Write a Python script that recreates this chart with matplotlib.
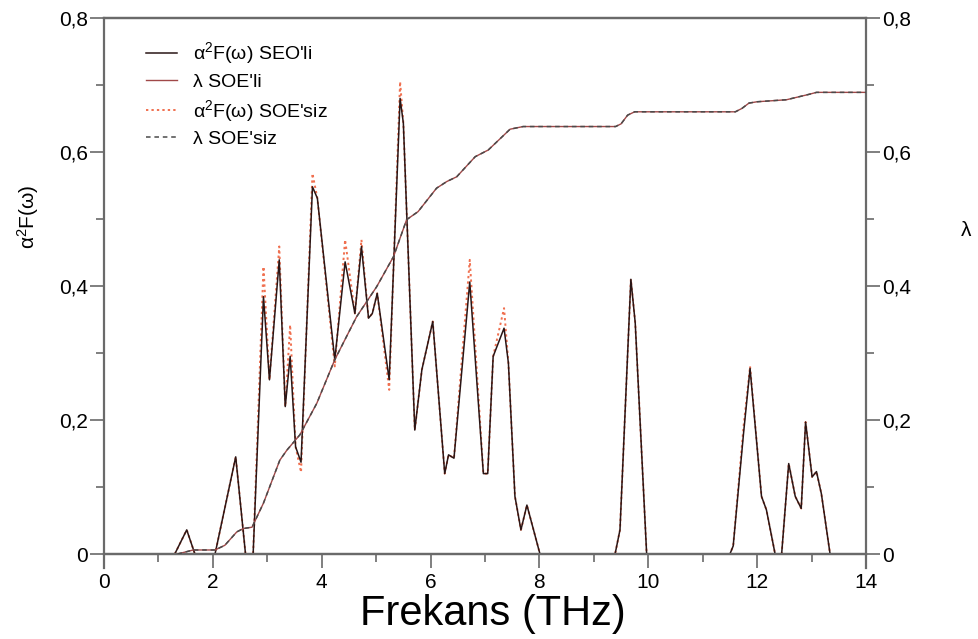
import matplotlib
matplotlib.use("Agg")
import matplotlib.pyplot as plt
from matplotlib.ticker import MultipleLocator, FuncFormatter

plt.rcParams['font.family'] = ['Liberation Sans', 'DejaVu Sans']

# --- data -------------------------------------------------------------
freq_a2f = [1.30, 1.52, 1.67, 2.04, 2.42, 2.60, 2.74, 2.93, 3.04, 3.22, 3.33, 3.42,
            3.52, 3.62, 3.83, 3.92, 4.24, 4.43, 4.61, 4.73, 4.86, 4.93, 5.02, 5.24,
            5.44, 5.50, 5.71, 5.84, 6.04, 6.26, 6.33, 6.43, 6.72, 6.97, 7.05, 7.15,
            7.35, 7.43, 7.55, 7.66, 7.77, 8.01, 9.39, 9.48, 9.68, 9.76, 9.97, 11.50,
            11.56, 11.75, 11.87, 12.08, 12.17, 12.33, 12.45, 12.58, 12.70, 12.81,
            12.89, 13.01, 13.09, 13.18, 13.34, 14.00]
a2f_soe_li = [0, 0.036, 0, 0, 0.145, 0, 0, 0.384, 0.26, 0.439, 0.22, 0.295,
              0.16, 0.137, 0.548, 0.531, 0.29, 0.436, 0.359, 0.459, 0.352, 0.359, 0.389, 0.26,
              0.68, 0.643, 0.185, 0.275, 0.347, 0.12, 0.148, 0.143, 0.406, 0.12, 0.12, 0.295,
              0.337, 0.285, 0.086, 0.036, 0.073, 0, 0, 0.036, 0.41, 0.345, 0, 0,
              0.012, 0.18, 0.277, 0.086, 0.066, 0, 0, 0.135, 0.086, 0.068,
              0.197, 0.115, 0.123, 0.09, 0, 0]
a2f_soe_siz = [0, 0.036, 0, 0, 0.145, 0, 0, 0.429, 0.26, 0.459, 0.22, 0.342,
               0.16, 0.122, 0.568, 0.531, 0.28, 0.469, 0.359, 0.469, 0.352, 0.359, 0.389, 0.245,
               0.705, 0.643, 0.185, 0.275, 0.347, 0.12, 0.148, 0.143, 0.439, 0.12, 0.12, 0.295,
               0.367, 0.285, 0.086, 0.036, 0.073, 0, 0, 0.036, 0.41, 0.345, 0, 0,
               0.012, 0.19, 0.28, 0.086, 0.066, 0, 0, 0.135, 0.086, 0.068,
               0.197, 0.115, 0.123, 0.09, 0, 0]

freq_lam = [1.35, 1.64, 2.04, 2.22, 2.44, 2.56, 2.72, 2.93, 3.23, 3.36, 3.60, 3.91,
            4.24, 4.64, 5.01, 5.32, 5.56, 5.77, 6.11, 6.30, 6.48, 6.82, 7.06, 7.28,
            7.46, 7.70, 9.40, 9.50, 9.62, 9.75, 11.60, 11.72, 11.85, 12.00, 12.54,
            12.95, 13.09, 14.00]
lam_soe_li = [0, 0.006, 0.006, 0.013, 0.033, 0.038, 0.040, 0.076, 0.14, 0.155, 0.178, 0.225,
              0.29, 0.354, 0.399, 0.444, 0.499, 0.511, 0.546, 0.556, 0.563, 0.593, 0.603, 0.62,
              0.634, 0.638, 0.638, 0.642, 0.655, 0.66, 0.66, 0.665, 0.673, 0.675, 0.678,
              0.686, 0.689, 0.689]
lam_soe_siz = [0, 0.006, 0.006, 0.013, 0.033, 0.038, 0.040, 0.076, 0.14, 0.155, 0.178, 0.225,
               0.29, 0.354, 0.399, 0.444, 0.499, 0.511, 0.546, 0.556, 0.563, 0.593, 0.603, 0.62,
               0.634, 0.638, 0.638, 0.642, 0.655, 0.66, 0.66, 0.665, 0.673, 0.675, 0.678,
               0.686, 0.689, 0.689]

labels = [r"$\mathregular{\alpha^{2}F(\omega)}$ SEO'li", "λ SOE'li",
          r"$\mathregular{\alpha^{2}F(\omega)}$ SOE'siz", "λ SOE'siz"]

# --- figure -----------------------------------------------------------
fig = plt.figure(figsize=(9.79, 6.39), dpi=100)
ax = fig.add_axes([104/979, 1-554/639, (866-104)/979, (554-18)/639])
ax2 = ax.twinx()

c_dark = '#2a1616'
c_lam = '#a04848'
c_dot = '#f07050'
c_dash = '#4a4a4a'
axis_col = '#6a6a6a'

l3, = ax.plot(freq_a2f, a2f_soe_siz, color=c_dot, lw=1.4, ls=(0, (1.2, 1.6)), zorder=2)
l1, = ax.plot(freq_a2f, a2f_soe_li, color=c_dark, lw=1.1, zorder=3)
l2, = ax2.plot(freq_lam, lam_soe_li, color=c_lam, lw=1.0, zorder=2)
l4, = ax2.plot(freq_lam, lam_soe_siz, color=c_dash, lw=1.1, ls=(0, (3, 2.5)), zorder=3)

fmt = FuncFormatter(lambda v, p: '0' if abs(v) < 1e-9 else f'{v:.1f}'.replace('.', ','))
for a in (ax, ax2):
    a.set_xlim(0, 14)
    a.set_ylim(0, 0.8)
    a.yaxis.set_major_locator(MultipleLocator(0.2))
    a.yaxis.set_minor_locator(MultipleLocator(0.1))
    a.yaxis.set_major_formatter(fmt)
    for s in a.spines.values():
        s.set_color(axis_col)
        s.set_linewidth(1.6)
ax.xaxis.set_major_locator(MultipleLocator(2))
ax.xaxis.set_minor_locator(MultipleLocator(1))
ax.tick_params(axis='both', which='major', direction='out', length=10, width=1.2,
               color=axis_col, labelsize=15, top=False, right=False)
ax.tick_params(axis='y', which='major', pad=1.5)
ax.tick_params(axis='x', which='major', pad=4)
ax.tick_params(axis='both', which='minor', direction='out', length=6, width=1.2,
               color=axis_col, top=False, right=False)
ax2.tick_params(axis='y', which='major', direction='out', length=10, width=1.2,
                color=axis_col, labelsize=15, pad=1.5)
ax2.tick_params(axis='y', which='minor', direction='out', length=6, width=1.2, color=axis_col)
ax.spines['left'].set_bounds(-0.021, 0.8)
ax2.spines['right'].set_bounds(-0.021, 0.8)
ax2.spines['left'].set_visible(False)
ax.spines['right'].set_visible(False)

fig.text(493/979, 1-625/639, 'Frekans (THz)', ha='center', va='baseline', fontsize=30)

fig.text(28/979, 1-217/639, r"$\mathregular{\alpha^{2}F(\omega)}$", rotation=90,
         ha='center', va='center', fontsize=15)
fig.text(966/979, 1-230/639, 'λ', ha='center', va='center', fontsize=15)

ax.legend([l1, l2, l3, l4], labels, loc='upper left', frameon=False,
          bbox_to_anchor=(0.055, 0.958), fontsize=14, handlelength=1.6,
          handletextpad=0.8, labelspacing=0.35, borderaxespad=0, borderpad=0)

fig.savefig('out.png', dpi=100)
